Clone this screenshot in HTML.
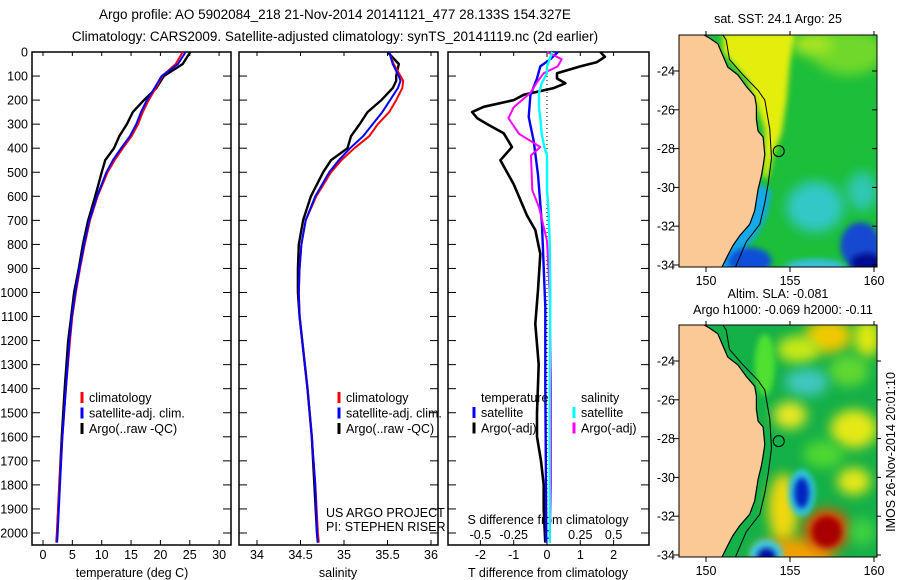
<!DOCTYPE html>
<html><head><meta charset="utf-8">
<style>
body{margin:0;background:#fff;}
svg{display:block;font-family:"Liberation Sans",sans-serif;}
text{font-size:12.5px;fill:#000;}
</style></head>
<body>
<svg id="c" width="900" height="580" viewBox="0 0 900 580" xmlns="http://www.w3.org/2000/svg">
<defs>
<filter id="bl" x="-50%" y="-50%" width="200%" height="200%"><feGaussianBlur stdDeviation="6"/></filter>
<filter id="bl2" x="-50%" y="-50%" width="200%" height="200%"><feGaussianBlur stdDeviation="3"/></filter>
<clipPath id="m1"><rect x="679" y="35" width="198" height="232"/></clipPath>
<clipPath id="m2"><rect x="679" y="325" width="198" height="232"/></clipPath>
</defs>
<text x="335" y="19" text-anchor="middle" style="font-size:13.5px">Argo profile: AO 5902084_218 21-Nov-2014 20141121_477 28.133S 154.327E</text>
<text x="335" y="41" text-anchor="middle" style="font-size:13.5px">Climatology: CARS2009. Satellite-adjusted climatology: synTS_20141119.nc (2d earlier)</text>
<g id="grp"></g>
</svg>
<script>
// ---------- data ----------
const tDepth=[0,50,100,150,200,250,300,350,400,450,500,600,700,800,900,1000,1100,1200,1400,1600,1800,2000,2040];
const tempClim=[23.8,22.6,20.3,19.2,18.0,17.0,16.2,15.1,13.6,12.2,11.0,9.3,8.0,7.1,6.3,5.6,5.0,4.6,3.9,3.3,2.8,2.4,2.3];
const tempSat=[24.3,23.0,20.2,19.0,17.7,16.7,15.9,14.8,13.3,11.9,10.8,9.2,7.9,7.0,6.2,5.5,4.9,4.5,3.9,3.3,2.9,2.5,2.4];
const tempArgo=[25.1,23.8,20.6,19.3,17.2,15.3,14.3,13.0,12.1,10.6,10.0,8.9,7.7,6.8,6.1,5.3,4.8,4.3,3.7,3.2,2.8,2.4,2.3];
const sDepth=[0,50,100,120,150,200,250,300,350,400,450,500,600,700,800,900,1000,1100,1200,1400,1600,1800,2000,2040];
const salClim=[35.52,35.57,35.65,35.68,35.67,35.60,35.52,35.39,35.29,35.12,34.97,34.85,34.68,34.56,34.51,34.49,34.48,34.49,34.52,34.58,34.63,34.67,34.70,34.71];
const salSat=[35.52,35.56,35.63,35.65,35.62,35.53,35.44,35.33,35.22,35.07,34.94,34.83,34.67,34.56,34.51,34.49,34.48,34.49,34.52,34.58,34.63,34.67,34.69,34.70];
const salArgo=[35.50,35.63,35.60,35.60,35.56,35.43,35.27,35.18,35.08,35.04,34.85,34.76,34.62,34.53,34.48,34.47,34.47,34.49,34.52,34.58,34.63,34.66,34.69,34.70];
const dDepthA=[0,20,42,60,88,110,130,150,178,200,228,250,275,300,338,395,450,550,680,740,840,990,1130,1300,1500,1600,1700,1800,1900,2040];
const dTArgo=[1.6,1.74,1.5,1.0,0.3,0.3,0.55,0.2,-0.7,-1.0,-1.9,-2.25,-2.1,-1.8,-1.3,-1.05,-1.4,-1.0,-0.6,-0.35,-0.2,-0.27,-0.35,-0.25,-0.3,-0.3,-0.18,-0.1,-0.1,-0.05];
const dDepthB=[0,30,60,110,180,270,370,510,720,1060,1400,1800,2040];
const dTSat=[0.33,0.1,-0.2,-0.3,-0.5,-0.55,-0.4,-0.27,-0.15,-0.05,-0.05,-0.03,-0.02];
const dDepthS=[0,30,60,88,130,170,230,275,340,395,430,575,645,785,1000,1400,1800,2040];
const dSArgo=[0,0.11,0.08,-0.025,-0.08,-0.125,-0.25,-0.29,-0.21,-0.05,-0.12,-0.11,-0.06,0,0.02,0.03,0.03,0.02];
const dSSat=[0.04,0.02,0,0,-0.04,-0.06,-0.06,-0.05,-0.04,-0.02,0,0,0.01,0.02,0.025,0.02,0.02,0.02];
const depthTicks=[0,100,200,300,400,500,600,700,800,900,1000,1100,1200,1300,1400,1500,1600,1700,1800,1900,2000];
const tempTicks=[0,5,10,15,20,25,30];
const salTicks=[34,34.5,35,35.5,36];
const tdTicks=[-2,-1,0,1,2];
const sdTicks=[-0.5,-0.25,0,0.25,0.5];
const sdLabels=["-0.5","-0.25","0","0.25","0.5"];
const latTicks=[-24,-26,-28,-30,-32,-34];
const lonTicks=[150,155,160];

// ---------- helpers ----------
const NS="http://www.w3.org/2000/svg";
const G=document.getElementById('grp');
function mk(t,a,p){const e=document.createElementNS(NS,t);for(const k in a)e.setAttribute(k,a[k]);(p||G).appendChild(e);return e;}
function txt(x,y,s,anchor,p,extra){const e=mk('text',Object.assign({x:x,y:y,'text-anchor':anchor||'start'},extra||{}),p);e.textContent=s;return e;}
const TOP=52,BOT=545;
const yD=d=>TOP+d*0.2405;
const xT=v=>43+v*5.87;
const xS=v=>257+(v-34)*87;
const xTD=v=>547+v*33.3;
const xSD=v=>547+v*4*33.3;

function panel(x0,x1,name){
  const r=mk('rect',{x:x0,y:TOP,width:x1-x0,height:BOT-TOP,fill:'none',stroke:'#000','stroke-width':1.5});
  
  
  depthTicks.forEach(d=>{
    const y=yD(d);
    mk('line',{x1:x0,x2:x0+8,y1:y,y2:y,stroke:'#000'});
    mk('line',{x1:x1,x2:x1-8,y1:y,y2:y,stroke:'#000'});
  });
}
function line(xs,ds,fx,col,w,name){
  let p='';
  xs.forEach((v,i)=>{p+=(i?'L':'M')+fx(v).toFixed(1)+','+yD(ds[i]).toFixed(1);});
  const e=mk('path',{d:p,fill:'none',stroke:col,'stroke-width':w,'stroke-linejoin':'round'});
  
  
}
function xaxis(ticks,fx,labels){
  ticks.forEach((tk,i)=>{const x=fx(tk);mk('line',{x1:x,x2:x,y1:BOT,y2:BOT-5,stroke:'#000'});mk('line',{x1:x,x2:x,y1:TOP,y2:TOP+4,stroke:'#000'});
    const l=txt(x,559,labels?labels[i]:String(tk),'middle');
    
    });
}
function legend(x,y,items){
  items.forEach((it,i)=>{
    mk('line',{x1:x,x2:x,y1:y+i*15.5-10,y2:y+i*15.5+1,stroke:it[1],'stroke-width':3});
    const l=txt(x+7,y+i*15.5,it[0],'start');
    
    
  });
}

// Panel 1 temperature
panel(32,231,'temperature-panel');
depthTicks.forEach(d=>{const l=txt(28,yD(d)+4.5,String(d),'end');
  
  });
xaxis(tempTicks,xT);
line(tempArgo,tDepth,xT,'#000',2.4,'temp-argo-line');
line(tempClim,tDepth,xT,'#f00',2,'temp-clim-line');
line(tempSat,tDepth,xT,'#00f',2,'temp-sat-line');
legend(82,402,[['climatology','#f00'],['satellite-adj. clim.','#00f'],['Argo(..raw -QC)','#000']]);
let tt=txt(132,577,'temperature (deg C)','middle');



// Panel 2 salinity
panel(239,438,'salinity-panel');
xaxis(salTicks,xS);
line(salArgo,sDepth,xS,'#000',2.4,'sal-argo-line');
line(salClim,sDepth,xS,'#f00',2,'sal-clim-line');
line(salSat,sDepth,xS,'#00f',2,'sal-sat-line');
legend(339,402,[['climatology','#f00'],['satellite-adj. clim.','#00f'],['Argo(..raw -QC)','#000']]);
tt=txt(338,577,'salinity','middle');


tt=txt(326,517,'US ARGO PROJECT','start');


tt=txt(326,531,'PI: STEPHEN RISER','start');



// Panel 3 differences
panel(448,649,'difference-panel');
mk('line',{x1:xTD(0),x2:xTD(0),y1:TOP,y2:520,stroke:'#000','stroke-dasharray':'1,3'});
xaxis(tdTicks,xTD);
sdTicks.forEach((s,i)=>{const l=txt(xSD(s),539,sdLabels[i],'middle');
  
  });
tt=txt(548,524,'S difference from climatology','middle');


line(dTArgo,dDepthA,xTD,'#000',2.6,'tdiff-argo-line');
line(dTSat,dDepthB,xTD,'#00f',2.4,'tdiff-sat-line');
line(dSArgo,dDepthS,xSD,'#f0f',2,'sdiff-argo-line');
line(dSSat,dDepthS,xSD,'#0ff',2.4,'sdiff-sat-line');
tt=txt(481,402,'temperature','start');


tt=txt(581,402,'salinity','start');


legend(474,417,[['satellite','#00f'],['Argo(-adj)','#000']]);
legend(574,417,[['satellite','#0ff'],['Argo(-adj)','#f0f']]);
tt=txt(548,577,'T difference from climatology','middle');



// ---------- maps ----------
const lx=lon=>706+(lon-150)*16.8;
function ly(lat,t0){return t0+36+(-24-lat)*19.4;}
const coast=[[149.6,-22.0],[150.2,-22.3],[150.7,-22.6],[151.0,-23.2],[151.3,-23.8],[151.9,-24.2],[152.4,-24.8],[152.9,-25.3],[153.0,-25.8],[153.0,-26.5],[153.1,-27.1],[153.4,-27.4],[153.5,-28.3],[153.4,-28.9],[153.3,-29.4],[153.1,-30.1],[152.9,-31.2],[152.6,-31.9],[152.0,-32.5],[151.6,-33.0],[151.3,-33.5],[150.9,-34.2]];
const shelf=[[150.9,-22.0],[151.2,-22.4],[151.4,-23.4],[152.2,-24.2],[153.1,-25.0],[153.5,-25.5],[153.8,-27.0],[153.9,-28.5],[153.7,-29.8],[153.5,-30.8],[153.2,-31.9],[152.4,-32.8],[151.7,-34.2]];
function poly(pts,t0,extra){return pts.map(p=>lx(p[0]).toFixed(1)+','+ly(p[1],t0).toFixed(1)).join(' ')+(extra||'');}
function blob(p,t0,lon,lat,rx,ry,col,f){mk('ellipse',{cx:lx(lon),cy:ly(lat,t0),rx:rx*16.8,ry:ry*19.4,fill:col,filter:'url(#'+(f||'bl')+')'},p);}

function mapFrame(clip,name){
  const g=mk('g',{'clip-path':'url(#'+clip+')'});
  
  
  return g;
}
function mapAxes(t0,rightTicks){
  mk('rect',{x:679,y:t0,width:198,height:232,fill:'none',stroke:'#000','stroke-width':1});
  latTicks.forEach(l=>{const y=ly(l,t0);
    mk('line',{x1:673,x2:679,y1:y,y2:y,stroke:'#000'});
    mk('line',{x1:877,x2:rightTicks?881:872,y1:y,y2:y,stroke:'#000'});
    const e=txt(675,y+4.5,String(l),'end');
    
    });
  lonTicks.forEach(l=>{const x=lx(l);
    mk('line',{x1:x,x2:x,y1:t0,y2:t0-4,stroke:'#000'});
    mk('line',{x1:x,x2:x,y1:t0+232,y2:t0+237,stroke:'#000'});
    const e=txt(x,t0+250,String(l),'middle');
    
    });
}
function landAndLines(g,t0){
  mk('polygon',{points:'660,'+(t0-10)+' '+poly(coast,t0)+' 660,'+(t0+260),fill:'#fbc996',stroke:'#000','stroke-width':1.2},g);
  mk('polyline',{points:poly(shelf,t0),fill:'none',stroke:'#000','stroke-width':1},g);
  mk('circle',{cx:lx(154.33),cy:ly(-28.13,t0),r:5.5,fill:'none',stroke:'#000','stroke-width':1},g);
}

// SST map
let mt=35;
let g1=mapFrame('m1','sst-map');
mk('rect',{x:679,y:mt,width:198,height:232,fill:'#1cbe3a'},g1);
blob(g1,mt,158.5,-23,2.2,1.2,'#70d82a');
blob(g1,mt,156.3,-22.6,1.2,0.6,'#a8e420');
mk('polygon',{points:poly([[151,-22],[155.3,-22],[155.0,-23.5],[154.8,-25.5],[154.5,-27.2],[154.0,-28.3],[153.7,-29.5],[153.4,-29.5],[153.5,-27],[152.5,-24.5],[151,-23]],mt),fill:'#e4ee10',filter:'url(#bl2)'},g1);
blob(g1,mt,156.5,-31,1.7,1.3,'#30c8c8');
blob(g1,mt,159.3,-30.2,0.9,1.0,'#2ec8b4');
mk('polygon',{points:poly([[153.2,-29.8],[153.9,-30.2],[153.6,-31.5],[153,-32.5],[152.3,-33.2],[152.3,-34.5],[150,-34.5]],mt),fill:'#18a8e8',filter:'url(#bl2)'},g1);
blob(g1,mt,152.6,-33.8,1.3,0.7,'#1050d8','bl2');
blob(g1,mt,159.2,-33.0,1.2,1.2,'#1848d0','bl2');
blob(g1,mt,159.6,-33.9,1.0,0.5,'#001090','bl2');
blob(g1,mt,156.5,-34.1,1.8,0.4,'#38c0e0','bl2');
landAndLines(g1,mt);
mapAxes(mt,false);
tt=txt(778,mt-12,'sat. SST: 24.1  Argo: 25','middle');



// SLA map
mt=325;
let g2=mapFrame('m2','sla-map');
mk('rect',{x:679,y:mt,width:198,height:232,fill:'#14b048'},g2);
blob(g2,mt,157.3,-22.7,1.4,0.9,'#f0c800');
blob(g2,mt,155.5,-23.4,1.3,0.7,'#c8e818');
blob(g2,mt,159.6,-22.8,0.8,1.0,'#e0e810');
blob(g2,mt,158.5,-24.5,1.2,0.8,'#60d830');
blob(g2,mt,156.0,-25.1,1.3,0.7,'#40c8c0');
blob(g2,mt,155.0,-26.8,1.0,0.7,'#e8e820');
blob(g2,mt,158.8,-27.5,1.4,1.0,'#e6e818');
blob(g2,mt,157.0,-28.8,1.2,0.7,'#50d830');
blob(g2,mt,153.5,-24.2,0.6,1.6,'#50e030','bl2');
blob(g2,mt,154.6,-31.6,0.9,1.8,'#f0d810');
blob(g2,mt,158.8,-30.2,1.0,0.7,'#e6e818');
blob(g2,mt,155.2,-34.0,2.4,0.9,'#f0a000');
blob(g2,mt,157.2,-32.7,1.4,1.1,'#e05000');
blob(g2,mt,157.2,-32.8,0.9,0.8,'#a80000','bl2');
blob(g2,mt,155.7,-30.8,0.8,1.2,'#30c8e0','bl2');
blob(g2,mt,155.7,-30.8,0.45,0.8,'#0020c0','bl2');
blob(g2,mt,153.6,-34.0,1.0,0.8,'#40c8e0','bl2');
blob(g2,mt,153.6,-34.1,0.55,0.45,'#0010a0','bl2');
blob(g2,mt,159.3,-32.8,0.8,0.7,'#40d040');
landAndLines(g2,mt);
mapAxes(mt,true);
tt=txt(778,mt-27,'Altim. SLA: -0.081','middle');


tt=txt(783,mt-11,'Argo h1000: -0.069 h2000: -0.11','middle');


tt=txt(0,0,'IMOS 26-Nov-2014 20:01:10','middle',G,{transform:'translate(895,452) rotate(-90)'});


</script>
</body></html>
